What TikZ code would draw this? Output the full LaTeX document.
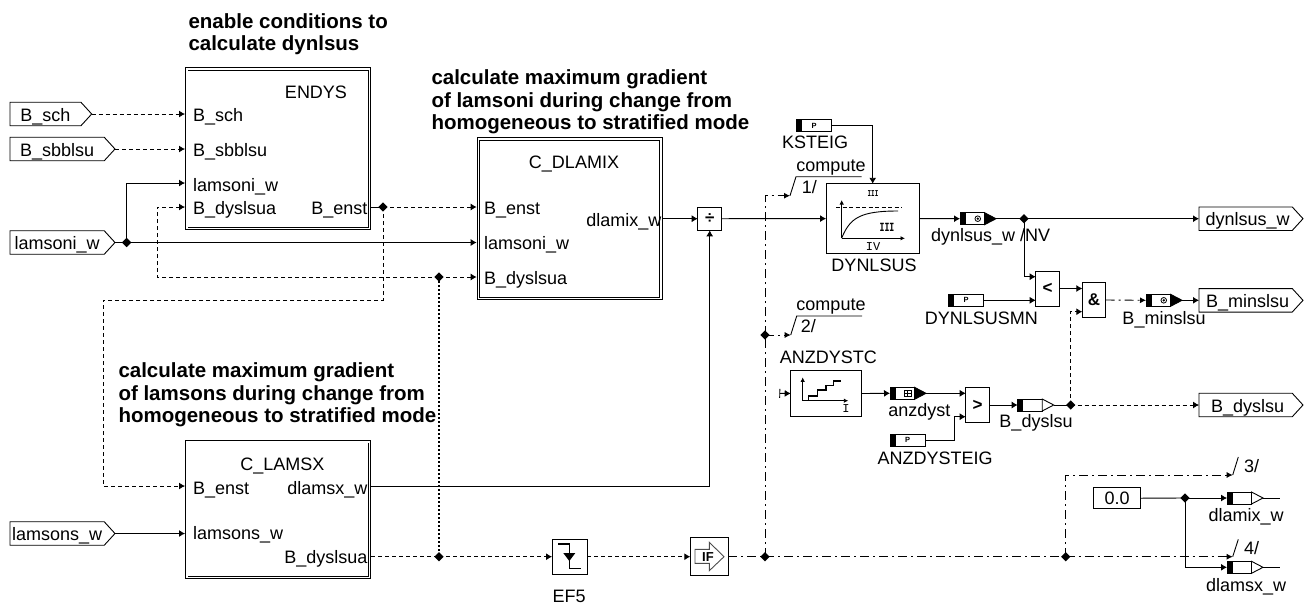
\documentclass[tikz,border=0pt]{standalone}
\usepackage{fontspec}
\setmainfont{Liberation Sans}
\newfontfamily\monofam{Liberation Mono}
\usetikzlibrary{arrows.meta, calc, shapes.geometric, shapes.symbols}

\tikzset{
  plainwire/.style={line width=.9pt},
  wire/.style={plainwire, -{Latex[length=6pt,width=7pt]}},
  dashwire/.style={wire, dash pattern=on 4pt off 3pt},
  dashline/.style={plainwire, dash pattern=on 4pt off 3pt},
  dotwire/.style={line width=1.8pt, dash pattern=on 2pt off 2pt},
  ctrlline/.style={plainwire, dash pattern=on 9pt off 4pt on 2pt off 4pt},
  ctrlwire/.style={ctrlline, -{Latex[length=6pt,width=6pt]}},
  junc/.style={diamond, fill=black, inner sep=0pt, minimum size=9.5pt},
  lbl/.style={font=\fontsize{18}{20}\selectfont, inner sep=0pt, anchor=base west},
  lblc/.style={lbl, anchor=base},
  lblr/.style={lbl, anchor=base east},
  heading/.style={font=\fontsize{20.5}{22.5}\selectfont\bfseries, inner sep=0pt, anchor=base west, align=left},
  tagbox/.style={signal, signal to=east, signal pointer angle=95, draw, line width=.9pt, outer sep=0pt, inner sep=0pt,
    minimum height=23.5pt, text height=14pt, text depth=0pt, anchor=west, font=\fontsize{18}{20}\selectfont},
  dblblock/.style={draw, line width=.9pt, double, double distance=1.6pt, outer sep=1.7pt, inner sep=0pt},
  fblock/.style={draw, line width=.9pt, outer sep=0pt, inner sep=0pt, font=\fontsize{17}{17}\selectfont\bfseries},
  varbox/.style={draw, line width=.9pt, fill=white, outer sep=0pt, inner sep=0pt, minimum height=12pt, anchor=west},
  tinytxt/.style={font=\fontsize{12}{12}\selectfont\monofam, inner sep=0pt},
  narrowtxt/.style={font=\fontsize{9}{9}\selectfont\monofam\bfseries, inner sep=0pt, transform shape, xscale=.66},
  icon/.style={line width=.9pt},
  iconax/.style={line width=.9pt, -{Latex[length=4.5pt,width=4.5pt]}},
}

\newcommand{\varsym}[4]{%
  \node[varbox, minimum width=24.5pt] (#1) at (#2,#3) {};
  \fill (#1.north west) rectangle ($(#1.south west)+(5.5,0)$);
  \filldraw[fill=#4, line width=.9pt] (#1.north east) -- ($(#1.east)+(11.5,0)$) -- (#1.south east) -- cycle;
  \coordinate (#1tip) at ($(#1.east)+(11.5,0)$);
}
\newcommand{\parsym}[3]{%
  \node[varbox, minimum width=35pt] (#1) at (#2,#3) {};
  \fill (#1.north west) rectangle ($(#1.south west)+(5.5,0)$);
  \node[font=\fontsize{7.5}{7.5}\selectfont\bfseries, inner sep=0pt] (#1mark) at (#1.center) {P};
}

\begin{document}
\begin{tikzpicture}[x=1pt,y=-1pt]
  \useasboundingbox (0,0) rectangle (1309,606);

  \node[heading] (headendys) at (188.3,50.7) {enable conditions to\\calculate dynlsus};
  \node[heading] (headdlamix) at (431.3,129.7) {calculate maximum gradient\\of lamsoni during change from\\homogeneous to stratified mode};
  \node[heading] (headlamsx) at (118.3,422.7) {calculate maximum gradient\\of lamsons during change from\\homogeneous to stratified mode};

  \node[tagbox, minimum width=81.7pt] (schtag) at (10,114) {B\_sch};
  \node[tagbox, minimum width=105pt] (sbbtag) at (10,149) {B\_sbblsu};
  \node[tagbox, minimum width=105pt] (lamitag) at (10,242.5) {lamsoni\_w};
  \node[tagbox, minimum width=105pt] (lamstag) at (10,533.5) {lamsons\_w};
  \node[tagbox, minimum width=104pt] (dyntag) at (1199,218.7) {\hspace{4pt}dynlsus\_w};
  \node[tagbox, minimum width=104pt] (mintag) at (1199,300.3) {\hspace{4pt}B\_minslsu};
  \node[tagbox, minimum width=104pt] (dystag) at (1199,405) {\hspace{4pt}B\_dyslsu};

  \node[dblblock, minimum width=182.6pt, minimum height=159.3pt] (endys) at (278,148.7) {};
  \node[lblc] (endysname) at (316,98.3) {ENDYS};
  \node[lbl] (endyssch) at (193,121) {B\_sch};
  \node[lbl] (endyssbb) at (193,156) {B\_sbblsu};
  \node[lbl] (endyslam) at (193,191) {lamsoni\_w};
  \node[lbl] (endysdys) at (193,214) {B\_dyslsua};
  \node[lblr] (endysenst) at (367.7,214) {B\_enst};

  \node[dblblock, minimum width=182.6pt, minimum height=159.3pt] (dlamix) at (569.7,218.7) {};
  \node[lblc] (dlamixname) at (574,168.7) {C\_DLAMIX};
  \node[lbl] (dlamixenst) at (484,214.3) {B\_enst};
  \node[lbl] (dlamixlam) at (484,249.3) {lamsoni\_w};
  \node[lbl] (dlamixdys) at (484,284) {B\_dyslsua};
  \node[lblr] (dlamixout) at (661.7,226) {dlamix\_w};

  \node[dblblock, minimum width=182.6pt, minimum height=135.6pt] (lamsx) at (278,509.5) {};
  \node[lblc] (lamsxname) at (282.3,470) {C\_LAMSX};
  \node[lbl] (lamsxenst) at (193,494) {B\_enst};
  \node[lblr] (lamsxout) at (367.7,494) {dlamsx\_w};
  \node[lbl] (lamsxlam) at (193,539) {lamsons\_w};
  \node[lblr] (lamsxdys) at (367.7,563.3) {B\_dyslsua};

  \node[fblock, minimum width=24pt, minimum height=23.3pt] (div) at (709.7,218.7) {÷};
  \node[fblock, minimum width=93.3pt, minimum height=69.6pt] (dyn) at (872.7,218.6) {};
  \node[lblc] (dynname) at (874,271) {DYNLSUS};
  \node[fblock, minimum width=23.6pt, minimum height=35pt] (less) at (1047.5,288.5) {<};
  \node[fblock, minimum width=23.4pt, minimum height=34.6pt] (and) at (1094,300) {\&};
  \node[fblock, minimum width=23.6pt, minimum height=34.6pt] (great) at (977.5,405) {>};
  \node[fblock, minimum width=70.6pt, minimum height=46.4pt] (stair) at (826,393.5) {};
  \node[lblc] (stairname) at (828.3,363.3) {ANZDYSTC};
  \node[fblock, minimum width=35.3pt, minimum height=35.3pt] (ef) at (569.7,556.7) {};
  \node[lblc] (efname) at (569,602.3) {EF5};
  \node[fblock, minimum width=38pt, minimum height=37.6pt] (ifblock) at (709.3,556.7) {};
  \node[fblock, minimum width=47pt, minimum height=21pt, font=\fontsize{18}{20}\selectfont] (zero) at (1117.2,498.2) {0.0};

  \parsym{ksteig}{796.7}{125.7}
  \node[lblc] (ksteigname) at (815,148.7) {KSTEIG};
  \parsym{minpar}{948.7}{300.3}
  \node[lblr] (minparname) at (1038,324) {DYNLSUSMN};
  \parsym{anzpar}{890}{440}
  \node[lblc] (anzparname) at (935,464) {ANZDYSTEIG};

  \varsym{dynvar}{960}{218.7}{black}
  \node[lbl] (dynvarname) at (931,241.7) {dynlsus\_w /NV};
  \varsym{minvar}{1146}{300.3}{black}
  \node[lblc] (minvarname) at (1164,324) {B\_minslsu};
  \varsym{anzvar}{890}{393.3}{black}
  \node[lblc] (anzvarname) at (919.3,416) {anzdyst};
  \varsym{dysvar}{1017.7}{405}{white}
  \node[lblc] (dysvarname) at (1036,427.7) {B\_dyslsu};
  \varsym{mixvar}{1227}{498}{white}
  \node[lblc] (mixvarname) at (1246,521.7) {dlamix\_w};
  \varsym{msxvar}{1227}{567.3}{white}
  \node[lblc] (msxvarname) at (1246,591) {dlamsx\_w};

  \node[junc] (jlam) at (126.6,242.5) {};
  \node[junc] (jenst) at (383,207) {};
  \node[junc] (jdys) at (439,277) {};
  \node[junc] (jua) at (439,556.7) {};
  \node[junc] (jif) at (765,556.7) {};
  \node[junc] (jtwo) at (765,335) {};
  \node[junc] (jctl) at (1065.7,556.7) {};
  \node[junc] (jzero) at (1185,498) {};
  \node[junc] (jdyn) at (1024,218.7) {};
  \node[junc] (jbd) at (1070.7,405) {};

  \coordinate (inlam) at (185,183);
  \coordinate (indys) at (185,207);
  \coordinate (fbkdys) at (157,277);
  \coordinate (enstdown) at (383,300);
  \coordinate (enstleft) at (103,300);
  \coordinate (inenst) at (185,486);
  \coordinate (outdlamsx) at (371,486);
  \coordinate (lessin) at (1035.7,276.7);
  \coordinate (andin) at (1082.3,311.7);
  \coordinate (greatin) at (965.7,416.7);
  \coordinate (anzbend) at (954,440);
  \coordinate (stairin) at (779.3,393.3);
  \coordinate (endmix) at (1280,498);
  \coordinate (endmsx) at (1280,567.3);

  \draw[dashwire] (schtag.east) -- (endys.west |- schtag.east);
  \draw[dashwire] (sbbtag.east) -- (endys.west |- sbbtag.east);
  \draw[plainwire] (lamitag.east) -- (jlam.center);
  \draw[wire] (jlam.center) |- (inlam);
  \draw[wire] (jlam.center) -- (dlamix.west |- jlam.center);
  \draw[dashwire] (jdys.center) -- (fbkdys) |- (indys);
  \draw[dashwire] (jdys.center) -- (dlamix.west |- jdys.center);
  \draw[plainwire] (endys.east |- jenst.center) -- (jenst.center);
  \draw[dashwire] (jenst.center) -- (dlamix.west |- jenst.center);
  \draw[dashwire] (jenst.center) -- (enstdown) -- (enstleft) |- (inenst);
  \draw[dotwire] (jdys.center) -- (jua.center);
  \draw[wire] (lamstag.east) -- (lamsx.west |- lamstag.east);
  \draw[wire] (outdlamsx) -| (div.south);
  \draw[dashline] (lamsx.east |- jua.center) -- (jua.center);
  \draw[dashwire] (jua.center) -- (ef.west);
  \draw[dashwire] (ef.east) -- (ifblock.west);
  \draw[wire] (dlamix.east |- div.west) -- (div.west);
  \draw[wire] (div.east) -- (dyn.west);
  \draw[wire] (ksteig.east) -| (dyn.north);
  \draw[wire] (dyn.east) -- (dynvar.west);
  \draw[plainwire] (dynvartip) -- (jdyn.center);
  \draw[wire] (jdyn.center) -- (dyntag.west);
  \draw[wire] (jdyn.center) |- (lessin);
  \draw[wire] (minpar.east) -- (less.west |- minpar.east);
  \draw[wire] (less.east) -- (and.west |- less.east);
  \draw[ctrlwire] (and.east) -- (minvar.west);
  \draw[wire] (minvartip) -- (mintag.west);
  \draw[dashwire] (jbd.center) |- (andin);
  \draw[wire, {Bar[width=9pt]}-{Latex[length=6pt,width=7pt]}] (stairin) -- (stair.west);
  \draw[wire] (stair.east) -- (anzvar.west);
  \draw[wire] (anzvartip) -- (great.west |- anzvar.east);
  \draw[wire] (anzpar.east) -- (anzbend) |- (greatin);
  \draw[wire] (great.east) -- (dysvar.west);
  \draw[plainwire] (dysvartip) -- (jbd.center);
  \draw[dashwire] (jbd.center) -- (dystag.west);
  \draw[plainwire] (zero.east) -- (jzero.center);
  \draw[wire] (jzero.center) -- (mixvar.west);
  \draw[wire] (jzero.center) |- (msxvar.west);
  \draw[plainwire] (mixvartip) -- (endmix);
  \draw[plainwire] (msxvartip) -- (endmsx);

  \coordinate (tickone) at (790,195.7);
  \coordinate (tickonetop) at (796,176.7);
  \coordinate (tickoneend) at (861.7,176.7);
  \coordinate (ticktwo) at (790.7,335);
  \coordinate (ticktwotop) at (796.7,316);
  \coordinate (ticktwoend) at (862,316);
  \coordinate (tickthree) at (1232.7,475);
  \coordinate (tickthreetop) at (1238.3,457);
  \coordinate (tickfour) at (1232.7,556.7);
  \coordinate (tickfourtop) at (1238.3,539.3);

  \draw[ctrlline] (ifblock.east) -- (jif.center);
  \draw[ctrlline] (jif.center) -- (jtwo.center);
  \draw[ctrlwire] (jtwo.center) |- (tickone);
  \draw[ctrlwire] (jtwo.center) -- (ticktwo);
  \draw[ctrlline] (jif.center) -- (jctl.center);
  \draw[ctrlwire] (jctl.center) |- (tickthree);
  \draw[ctrlwire] (jctl.center) -- (tickfour);
  \draw[plainwire] (tickone) -- (tickonetop) -- (tickoneend);
  \draw[plainwire] (ticktwo) -- (ticktwotop) -- (ticktwoend);
  \draw[plainwire] (tickthree) -- (tickthreetop);
  \draw[plainwire] (tickfour) -- (tickfourtop);
  \node[lblc] (computeone) at (831,171.7) {compute};
  \node[lbl] (numone) at (801.7,193.3) {1/};
  \node[lblc] (computetwo) at (831,310.5) {compute};
  \node[lbl] (numtwo) at (800.7,332.7) {2/};
  \node[lbl] (numthree) at (1244,472.7) {3/};
  \node[lbl] (numfour) at (1244,554.3) {4/};

  \draw[iconax] (841.7,238.3) -- (841.7,200);
  \draw[iconax] (841.7,238.3) -- (905,238.3);
  \draw[icon, dash pattern=on 4pt off 2.5pt] (836,207.7) -- (901.7,207.7);
  \draw[icon] (841.7,238) .. controls (850,218) and (860,211) .. (898,211);
  \node[narrowtxt] (dynin) at (873,194) {III};
  \node[tinytxt] (dynx) at (873,246.5) {IV};
  \node[narrowtxt, font=\fontsize{12.5}{12.5}\selectfont\monofam\bfseries] (dynbold) at (887,227) {III};

  \draw[iconax] (802.7,400.7) -- (802.7,377.3);
  \draw[iconax] (802.7,400.7) -- (848.3,400.7);
  \draw[icon, line width=1.3pt] (802.7,400.7) -- (808.3,400.7) -- (808.3,396) -- (817.3,396) -- (817.3,390) -- (826,390) -- (826,385.7) -- (833.3,385.7) -- (833.3,381) -- (841,381);
  \node[tinytxt] (stairx) at (846,409) {I};

  \draw[line width=1.6pt] (558.3,544) -- (569.3,544) -- (569.3,568.3) -- (581,568.3);
  \fill (563.3,553) -- (575.3,553) -- (569.3,561) -- cycle;

  \draw[icon, draw=black!70] (695,549.3) -- (709.3,549.3) -- (709.3,542.3) -- (724,556.7) -- (709.3,570.7) -- (709.3,563.3) -- (695,563.3) -- cycle;
  \node[font=\fontsize{13}{13}\selectfont\bfseries, inner sep=0pt] (ifname) at (708,556.7) {IF};

  \draw[line width=.8pt] ($(dynvar.center)+(5.5,0)$) circle (2.8pt);
  \fill ($(dynvar.center)+(5.5,0)$) circle (1.3pt);
  \draw[line width=.8pt] ($(minvar.center)+(5.5,0)$) circle (2.8pt);
  \fill ($(minvar.center)+(5.5,0)$) circle (1.3pt);
  \draw[line width=.8pt] ($(anzvar.center)+(2,-3)$) rectangle ($(anzvar.center)+(9,3)$);
  \draw[line width=.8pt] ($(anzvar.center)+(5.5,-3)$) -- ($(anzvar.center)+(5.5,3)$);
  \draw[line width=.8pt] ($(anzvar.center)+(2,0)$) -- ($(anzvar.center)+(9,0)$);
\end{tikzpicture}
\end{document}
